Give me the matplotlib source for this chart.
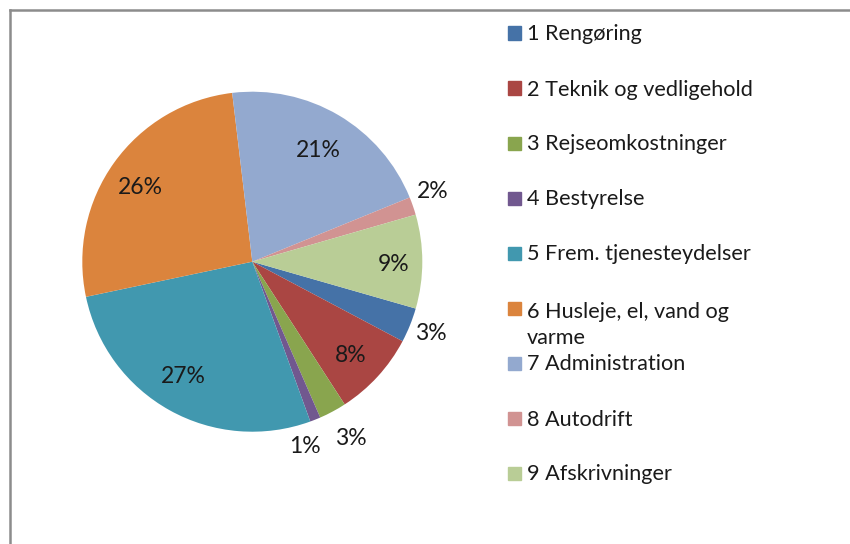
import numpy as np
import matplotlib
matplotlib.use("Agg")
import matplotlib.pyplot as plt
from matplotlib.patches import Rectangle
from matplotlib.lines import Line2D

plt.rcParams["font.family"] = ["Lato", "DejaVu Sans"]

categories = [
    "1 Rengøring",
    "2 Teknik og vedligehold",
    "3 Rejseomkostninger",
    "4 Bestyrelse",
    "5 Frem. tjenesteydelser",
    "6 Husleje, el, vand og\nvarme",
    "7 Administration",
    "8 Autodrift",
    "9 Afskrivninger",
]
shares = [3.3, 8.1, 2.6, 1.0, 27.2, 26.4, 20.7, 1.7, 8.9]
colors = ["#4572A7", "#AA4643", "#89A54E", "#71588F", "#4198AF",
          "#DB843D", "#93A9CF", "#D19392", "#B9CD96"]
# label placement: radius (fraction of pie radius) and angular nudge (deg, clockwise)
label_r = [1.13, 0.80, 1.19, 1.13, 0.79, 0.79, 0.76, 1.14, 0.83]
label_nudge = [0, 1, -1, 6, 2, -2, 0, -2, 1]

W, H = 850, 544
fig = plt.figure(figsize=(W / 100, H / 100), dpi=100)

# pie centre ~ (252, 262) px, radius 170 px
cx, cy, r = 252.3, 261.7, 170
ax = fig.add_axes([(cx - r) / W, (H - cy - r) / H, 2 * r / W, 2 * r / H])
wedges, _ = ax.pie(shares, colors=colors, startangle=-16, counterclock=False,
                   radius=1, wedgeprops=dict(linewidth=0))
ax.set_xlim(-1, 1)
ax.set_ylim(-1, 1)
ax.set_aspect("equal")

total = sum(shares)
for w, val, rr, dn in zip(wedges, shares, label_r, label_nudge):
    mid = np.deg2rad((w.theta1 + w.theta2) / 2 - dn)
    ax.text(rr * np.cos(mid), rr * np.sin(mid), f"{round(val / total * 100):.0f}%",
            ha="center", va="center", fontsize=16.5, color="#1a1a1a", clip_on=False)

# legend, drawn by hand to keep Excel's even row spacing
line_step = 28
for i, (lab, col) in enumerate(zip(categories, colors)):
    yc = 33 + 55 * i
    extra = lab.count("\n") * line_step
    fig.add_artist(Rectangle((508 / W, 1 - (yc + 6.5) / H), 13 / W, 13 / H,
                             transform=fig.transFigure, color=col))
    fig.text(527 / W, 1 - (yc + 7.5 + extra) / H, lab, ha="left", va="baseline",
             fontsize=15.6, color="#1a1a1a", linespacing=1.35)

# chart-area border (only top and left are visible in the crop)
fig.add_artist(Line2D([9.5 / W, 1.0], [1 - 10 / H, 1 - 10 / H],
                      transform=fig.transFigure, color="#8c8c8c", lw=1.8))
fig.add_artist(Line2D([9.5 / W, 9.5 / W], [0.0, 1 - 10 / H],
                      transform=fig.transFigure, color="#8c8c8c", lw=1.8))

fig.savefig("out.png", dpi=100)
